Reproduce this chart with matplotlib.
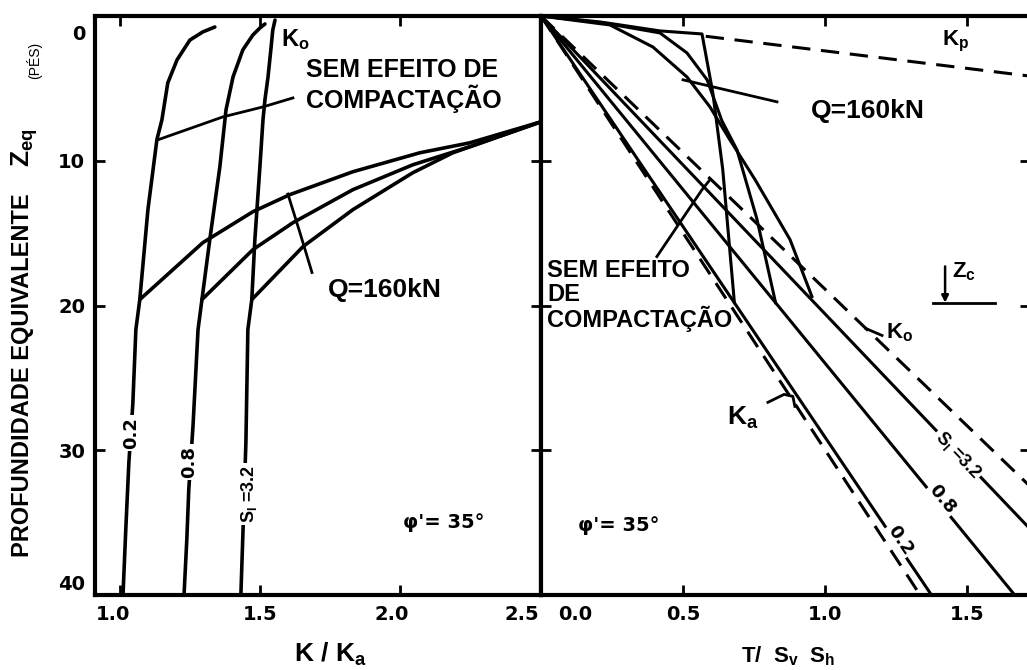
import numpy as np
import matplotlib
matplotlib.use("Agg")
import matplotlib.pyplot as plt
from matplotlib import transforms as mtransforms

plt.rcParams['font.family'] = ['Liberation Sans', 'DejaVu Sans']
plt.rcParams['font.weight'] = 'bold'
plt.rcParams['mathtext.fontset'] = 'custom'
plt.rcParams['mathtext.rm'] = 'Liberation Sans:bold'
plt.rcParams['mathtext.it'] = 'Liberation Sans:bold'
plt.rcParams['mathtext.bf'] = 'Liberation Sans:bold'
plt.rcParams['mathtext.default'] = 'rm'

# ---------------- data ----------------
depth_ticks = [0, 10, 20, 30, 40]
kka_ticks = [1.0, 1.5, 2.0, 2.5]
kka_tick_labels = ["1.0", "1.5", "2.0", "2.5"]
tsv_ticks = [0.0, 0.5, 1.0, 1.5]
tsv_tick_labels = ["0.0", "0.5", "1.0", "1.5"]
sl_values = ["0.2", "0.8", "3.2"]

# left panel: K/Ka against equivalent depth, compaction-induced curves
comp_k_02 = [1.011, 1.021, 1.032, 1.046, 1.057, 1.071, 1.100, 1.132, 1.150, 1.171, 1.204, 1.250, 1.296, 1.339]
comp_z_02 = [40.0, 35.45, 30.83, 26.83, 21.66, 19.59, 13.38, 8.55, 7.17, 4.62, 3.03, 1.66, 1.10, 0.76]
comp_k_08 = [1.229, 1.239, 1.246, 1.261, 1.279, 1.293, 1.321, 1.357, 1.379, 1.404, 1.439, 1.475, 1.500, 1.518]
comp_z_08 = [40.0, 36.14, 32.69, 28.34, 21.66, 19.59, 15.45, 10.41, 6.48, 4.21, 2.34, 1.31, 0.83, 0.55]
comp_k_32 = [1.432, 1.439, 1.450, 1.457, 1.471, 1.482, 1.500, 1.511, 1.518, 1.529, 1.539, 1.546, 1.554]
comp_z_32 = [40.0, 35.93, 29.45, 21.66, 19.59, 15.45, 10.41, 7.17, 5.79, 4.21, 2.34, 0.97, 0.28]

# left panel: Q = 160 kN curves
q_k_02 = [1.071, 1.296, 1.475, 1.607, 1.832, 2.071, 2.250, 2.504]
q_z_02 = [19.59, 15.66, 13.52, 12.34, 10.76, 9.45, 8.76, 7.31]
q_k_08 = [1.293, 1.475, 1.618, 1.832, 2.046, 2.250, 2.504]
q_z_08 = [19.59, 16.14, 14.28, 12.00, 10.28, 9.03, 7.31]
q_k_32 = [1.471, 1.654, 1.832, 2.046, 2.189, 2.504]
q_z_32 = [19.59, 15.93, 13.38, 10.83, 9.45, 7.31]

# right panel: T/(Sv Sh) against depth, straight lines from the origin
line_t_ka = [0.0, 1.335]
line_z_ka = [0.0, 40.0]
line_t_02 = [0.0, 1.375]
line_z_02 = [0.0, 40.0]
line_t_08 = [0.0, 1.668]
line_z_08 = [0.0, 40.0]
line_t_32 = [0.0, 1.944]
line_z_32 = [0.0, 40.0]
line_t_ko = [0.0, 2.120]
line_z_ko = [0.0, 40.0]
line_t_kp = [0.58, 1.75]
line_z_kp = [1.40, 4.22]

# right panel: Q = 160 kN curves
qr_t_02 = [0.0, 0.208, 0.419, 0.567, 0.605, 0.640, 0.681]
qr_z_02 = [0.0, 0.41, 1.03, 1.24, 5.30, 10.60, 19.80]
qr_t_08 = [0.0, 0.218, 0.419, 0.514, 0.585, 0.637, 0.690, 0.760, 0.826]
qr_z_08 = [0.0, 0.48, 1.17, 2.55, 4.41, 7.24, 9.24, 14.00, 19.80]
qr_t_32 = [0.0, 0.243, 0.394, 0.514, 0.595, 0.665, 0.754, 0.877, 0.954]
qr_z_32 = [0.0, 0.62, 2.14, 4.21, 6.28, 8.55, 11.31, 15.45, 19.38]

# ---------------- figure ----------------
W, H = 1027, 670
fig = plt.figure(figsize=(W / 100, H / 100), dpi=100)
fig.patch.set_facecolor('white')


def px_axes(x0, x1, y0, y1):
    return fig.add_axes([x0 / W, 1 - y1 / H, (x1 - x0) / W, (y1 - y0) / H])


axL = px_axes(95, 541, 16, 595)
axR = px_axes(541, 1030, 16, 595)

axL.set_xlim(0.911, 2.504)
axR.set_xlim(0.0, 1.722)
for ax in (axL, axR):
    ax.set_ylim(40, 0)
    for s in ax.spines.values():
        s.set_linewidth(3)
    ax.tick_params(which='both', direction='in', length=7, width=2,
                   top=True, bottom=True, left=True, right=True,
                   labelsize=14, pad=7)

axL.set_xticks(kka_ticks, labels=kka_tick_labels)
axL.set_yticks(depth_ticks, labels=[str(v) for v in depth_ticks])
axR.set_xticks(tsv_ticks, labels=tsv_tick_labels)
axR.set_yticks(depth_ticks, labels=[])

for ax in (axL, axR):
    for lab in ax.get_xticklabels() + ax.get_yticklabels():
        lab.set_fontfamily('DejaVu Sans')
        lab.set_fontweight('bold')


def nudge(label, dx_px, dy_px):
    off = mtransforms.ScaledTranslation(dx_px / 100, -dy_px / 100, fig.dpi_scale_trans)
    label.set_transform(label.get_transform() + off)


nudge(axL.get_xticklabels()[0], -7, 0)
nudge(axL.get_xticklabels()[2], -8, 0)
nudge(axL.get_xticklabels()[3], -18, 0)
nudge(axR.get_xticklabels()[0], 34, 0)
nudge(axL.get_yticklabels()[0], 0, 16)
nudge(axL.get_yticklabels()[4], 0, -12)

LW = 2.6
# ---- left panel curves ----
for k, z in ((comp_k_02, comp_z_02), (comp_k_08, comp_z_08), (comp_k_32, comp_z_32)):
    axL.plot(k, z, color='k', lw=LW, solid_capstyle='round', solid_joinstyle='round')
for k, z in ((q_k_02, q_z_02), (q_k_08, q_z_08), (q_k_32, q_z_32)):
    axL.plot(k, z, color='k', lw=LW, solid_capstyle='round', solid_joinstyle='round')

# leaders
axL.plot([1.136, 1.368, 1.511, 1.618], [8.55, 6.97, 6.28, 5.66], color='k', lw=2)
axL.plot([1.600, 1.643, 1.686], [12.3, 14.97, 17.72], color='k', lw=2)

txtL = dict(color='k', fontweight='bold')
axL.text(1.625, 1.66, "K$_o$", fontsize=17, ha='center', va='center', **txtL)
axL.text(1.664, 3.75, "SEM EFEITO DE", fontsize=18, ha='left', va='center', **txtL)
axL.text(1.664, 5.75, "COMPACTAÇÃO", fontsize=18, ha='left', va='center', **txtL)
axL.text(1.946, 18.9, "Q=160kN", fontsize=19, ha='center', va='center', **txtL)
axL.text(2.157, 35.0, "φ'= 35°", fontsize=14, ha='center', va='center',
         family='DejaVu Sans', **txtL)

box = dict(facecolor='white', edgecolor='none', pad=1.5)
axL.text(1.039, 28.8, sl_values[0], fontsize=13, rotation=90, ha='center', va='center',
         family='DejaVu Sans', bbox=box, **txtL)
axL.text(1.246, 30.8, sl_values[1], fontsize=13, rotation=90, ha='center', va='center',
         family='DejaVu Sans', bbox=box, **txtL)
axL.text(1.461, 33.0, "S$_l$ =" + sl_values[2], fontsize=13, rotation=90, ha='center',
         va='center', bbox=box, **txtL)

# ---- right panel lines ----
LW2 = 2.2
dash = (6.0, 3.5)
axR.plot(line_t_ka, line_z_ka, color='k', lw=LW2, dashes=dash)
axR.plot(line_t_ko, line_z_ko, color='k', lw=LW2, dashes=dash)
axR.plot(line_t_kp, line_z_kp, color='k', lw=LW2, dashes=dash)
for t, z in ((line_t_02, line_z_02), (line_t_08, line_z_08), (line_t_32, line_z_32)):
    axR.plot(t, z, color='k', lw=LW2)
for t, z in ((qr_t_02, qr_z_02), (qr_t_08, qr_z_08), (qr_t_32, qr_z_32)):
    axR.plot(t, z, color='k', lw=LW2, solid_joinstyle='round')

# leaders and symbols
axR.plot([0.50, 0.831], [4.41, 5.93], color='k', lw=2)
axR.plot([0.408, 0.567, 0.595], [16.62, 12.0, 11.31], color='k', lw=2)
axR.plot([0.799, 0.856, 0.887, 0.894], [26.69, 26.14, 26.28, 26.97], color='k', lw=2)
axR.plot([1.144, 1.201], [21.59, 22.07], color='k', lw=2)
axR.plot([1.380, 1.599], [19.86, 19.86], color='k', lw=2)
axR.annotate('', xy=(1.423, 19.8), xytext=(1.423, 17.3),
             arrowprops=dict(arrowstyle='-|>', lw=1.8, color='k', mutation_scale=10,
                             shrinkA=0, shrinkB=0))

axR.text(1.461, 1.79, "K$_p$", fontsize=16, ha='center', va='center', **txtL)
axR.text(1.151, 6.55, "Q=160kN", fontsize=19, ha='center', va='center', **txtL)
axR.text(0.021, 17.59, "SEM EFEITO", fontsize=17, ha='left', va='center', **txtL)
axR.text(0.021, 19.24, "DE", fontsize=17, ha='left', va='center', **txtL)
axR.text(0.021, 20.90, "COMPACTAÇÃO", fontsize=17, ha='left', va='center', **txtL)
axR.text(1.488, 17.66, "Z$_c$", fontsize=16, ha='center', va='center', **txtL)
axR.text(1.264, 21.86, "K$_o$", fontsize=16, ha='center', va='center', **txtL)
axR.text(0.711, 27.79, "K$_a$", fontsize=19, ha='center', va='center', **txtL)
axR.text(0.275, 35.17, "φ'= 35°", fontsize=14, ha='center', va='center',
         family='DejaVu Sans', **txtL)


def angle_of(ax, t, z):
    a = ax.transData.transform((t[0], z[0]))
    b = ax.transData.transform((t[1], z[1]))
    return np.degrees(np.arctan2(b[1] - a[1], b[0] - a[0]))


axR.text(1.264, 36.2, sl_values[0], fontsize=13, rotation=angle_of(axR, line_t_02, line_z_02),
         ha='center', va='center', family='DejaVu Sans', bbox=box, **txtL)
axR.text(1.412, 33.4, sl_values[1], fontsize=13, rotation=angle_of(axR, line_t_08, line_z_08),
         ha='center', va='center', family='DejaVu Sans', bbox=box, **txtL)
axR.text(1.468, 30.3, "S$_l$ =" + sl_values[2], fontsize=13,
         rotation=angle_of(axR, line_t_32, line_z_32),
         ha='center', va='center', bbox=box, **txtL)

# axis titles
fig.text(330 / W, 1 - 654 / H, "K / K$_a$", fontsize=19, ha='center', va='center', **txtL)
fig.text(788 / W, 1 - 656 / H, "T/  S$_v$  S$_h$", fontsize=16, ha='center', va='center', **txtL)
fig.text(23 / W, 1 - 375 / H, "PROFUNDIDADE EQUIVALENTE", fontsize=17, rotation=90,
         ha='center', va='center', **txtL)
fig.text(25 / W, 1 - 148 / H, "Z$_{eq}$", fontsize=19, rotation=90,
         ha='center', va='center', **txtL)
fig.text(34 / W, 1 - 60 / H, "(PÉS)", fontsize=10, rotation=90, fontweight='normal',
         ha='center', va='center', color='k')

fig.savefig("out.png", dpi=100, facecolor='white')
